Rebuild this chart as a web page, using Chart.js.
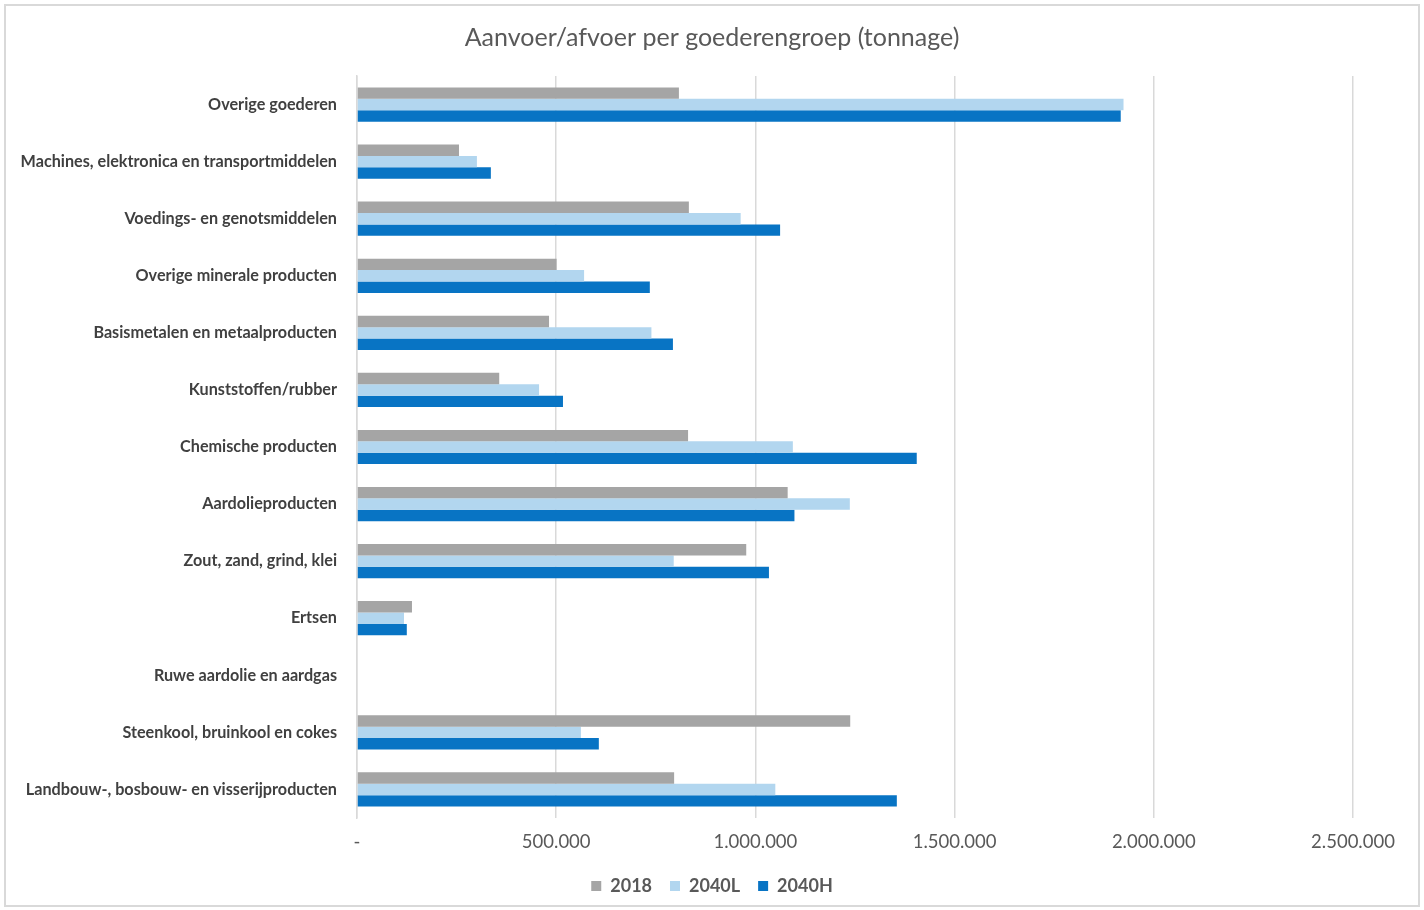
<!DOCTYPE html>
<html>
<head>
<meta charset="utf-8">
<script src="https://cdn.jsdelivr.net/npm/chart.js@4"></script>
<style>
  html, body { margin: 0; padding: 0; background: #fff; }
  #wrap { position: relative; width: 1424px; height: 910px; }
  #frame { position: absolute; left: 4px; top: 4px; width: 1412px; height: 899px;
           border: 2px solid #D9D9D9; pointer-events: none; }
</style>
</head>
<body>
<div id="wrap">
  <canvas id="myChart" width="1424" height="910"></canvas>
  <div id="frame"></div>
</div>
<script>
const categories = [
    'Overige goederen',
    'Machines, elektronica en transportmiddelen',
    'Voedings- en genotsmiddelen',
    'Overige minerale producten',
    'Basismetalen en metaalproducten',
    'Kunststoffen/rubber',
    'Chemische producten',
    'Aardolieproducten',
    'Zout, zand, grind, klei',
    'Ertsen',
    'Ruwe aardolie en aardgas',
    'Steenkool, bruinkool en cokes',
    'Landbouw-, bosbouw- en visserijproducten'
];
const seriesNames = ['2018', '2040L', '2040H'];
const values2018  = [808000, 256000, 833000, 501000, 482000, 357000, 831000, 1081000, 977000, 138000, 0, 1238000, 796000];
const values2040L = [1924000, 301000, 963000, 570000, 739000, 457000, 1094000, 1237000, 795000, 118000, 0, 562000, 1050000];
const values2040H = [1917000, 336000, 1062000, 735000, 793000, 517000, 1405000, 1098000, 1034000, 125000, 0, 607000, 1355000];
const xTicks = [0, 500000, 1000000, 1500000, 2000000, 2500000];
const chartTitle = 'Aanvoer/afvoer per goederengroep (tonnage)';

const colors = ['#A5A5A5', '#B2D6EF', '#0874C4'];
const FONT = 'Lato, "Open Sans", sans-serif';

function formatNL(v) {
    if (v === 0) return '-';
    return String(v).replace(/\B(?=(\d{3})+(?!\d))/g, '.');
}

// title centred on the whole canvas, not on the padded layout box
const centerTitle = {
    id: 'centerTitle',
    afterDraw(chart) {
        const c = chart.ctx;
        c.save();
        c.font = '25px ' + FONT;
        c.fillStyle = '#595959';
        c.textAlign = 'center';
        c.textBaseline = 'middle';
        c.fillText(chartTitle, chart.width / 2, 38);
        c.restore();
    }
};

const ctx = document.getElementById('myChart');
new Chart(ctx, {
    type: 'bar',
    data: {
        labels: categories,
        datasets: [values2018, values2040L, values2040H].map((d, i) => ({
            label: seriesNames[i],
            data: d,
            backgroundColor: colors[i],
            borderWidth: 0,
            barPercentage: 1,
            categoryPercentage: 0.6
        }))
    },
    plugins: [centerTitle],
    options: {
        indexAxis: 'y',
        responsive: false,
        animation: false,
        layout: { padding: { left: 0, right: 0, top: 76, bottom: 5 } },
        plugins: {
            title: { display: false },
            legend: {
                position: 'bottom',
                labels: {
                    color: '#595959',
                    boxWidth: 10,
                    boxHeight: 10,
                    padding: 18,
                    font: { family: FONT, size: 18, weight: 'bold' }
                }
            },
            tooltip: { enabled: false }
        },
        scales: {
            x: {
                min: 0,
                max: 2500000,
                afterBuildTicks: (scale) => { scale.ticks = xTicks.map(v => ({ value: v })); },
                afterFit: (scale) => { scale.height = 41; },
                ticks: {
                    color: '#595959',
                    padding: 13,
                    maxRotation: 0,
                    font: { family: FONT, size: 18.5 },
                    callback: (v) => formatNL(v)
                },
                grid: { color: '#D9D9D9', lineWidth: 1.5, drawTicks: false },
                border: { display: false }
            },
            y: {
                afterFit: (scale) => { scale.width = 357; },
                ticks: {
                    color: '#404040',
                    padding: 20,
                    font: { family: FONT, size: 16.2, weight: 'bold' }
                },
                grid: { display: false, drawTicks: false },
                border: { display: true, color: '#D9D9D9', width: 1.5 }
            },
            // empty right-hand strip so the plot ends at the same place as the reference
            yRight: {
                type: 'category',
                position: 'right',
                afterFit: (scale) => { scale.width = 71; },
                ticks: { display: false },
                grid: { display: false, drawTicks: false },
                border: { display: false }
            }
        }
    }
});
</script>
</body>
</html>
